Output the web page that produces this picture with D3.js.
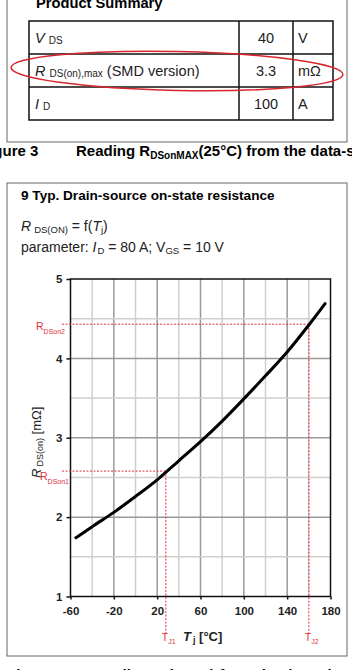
<!DOCTYPE html>
<html>
<head>
<meta charset="utf-8">
<script src="https://cdn.jsdelivr.net/npm/d3@7"></script>
<style>
  body { margin: 0; background: #fff; }
  svg { display: block; font-family: "Liberation Sans", Arial, sans-serif; }
</style>
</head>
<body>
<script>
// table rows: symbol, subscript, value, unit
var symbols = ['V', 'R', 'I'];
var subscripts = ['DS', 'DS(on),max', 'D'];
var extras = ['', ' (SMD version)', ''];
var values = ['40', '3.3', '100'];
var units = ['V', 'm\u03a9', 'A'];

// curve: Tj [°C] vs RDS(on) [mOhm]
var temps = [-55, -40, -20, 0, 20, 40, 60, 80, 100, 120, 140, 160, 175];
var rdson = [1.74, 1.88, 2.06, 2.26, 2.47, 2.71, 2.95, 3.21, 3.49, 3.78, 4.08, 4.42, 4.69];

// reading lines
var refTemps = [28, 160];
var refR = [2.58, 4.43];
var refNames = ['1', '2'];

var xTicks = [-60, -20, 20, 60, 100, 140, 180];
var yTicks = [1, 2, 3, 4, 5];

var red = '#e0303a';

var svg = d3.select('body').append('svg')
  .attr('width', 352)
  .attr('height', 670);

// ---------- product summary ----------
svg.append('rect')
  .attr('x', 7).attr('y', -5).attr('width', 340).attr('height', 147)
  .attr('fill', 'none').attr('stroke', '#666').attr('stroke-width', 1);

svg.append('text')
  .attr('x', 36).attr('y', 8)
  .attr('font-size', 14.7).attr('font-weight', 'bold')
  .text('Product Summary');

var rowH = 33, tTop = 21, tLeft = 29, tRight = 333;
var c1 = 239, c2 = 293;

svg.append('rect')
  .attr('x', tLeft).attr('y', tTop).attr('width', tRight - tLeft).attr('height', rowH * 3)
  .attr('fill', 'none').attr('stroke', '#111').attr('stroke-width', 1.5);

svg.selectAll('.rowline')
  .data([1, 2])
  .enter()
  .append('line')
  .attr('x1', tLeft).attr('x2', tRight)
  .attr('y1', function(d) { return tTop + d * rowH; })
  .attr('y2', function(d) { return tTop + d * rowH; })
  .attr('stroke', '#111').attr('stroke-width', 1.5);

svg.selectAll('.colline')
  .data([c1, c2])
  .enter()
  .append('line')
  .attr('x1', function(d) { return d; }).attr('x2', function(d) { return d; })
  .attr('y1', tTop).attr('y2', tTop + rowH * 3)
  .attr('stroke', '#111').attr('stroke-width', 1.5);

symbols.forEach(function(s, i) {
  var base = tTop + i * rowH + 22;
  var t = svg.append('text').attr('x', 35).attr('y', base).attr('font-size', 14.5).attr('fill', '#222');
  t.append('tspan').attr('font-style', 'italic').text(s);
  t.append('tspan').attr('font-size', 10).attr('dx', 4).attr('dy', 1).text(subscripts[i]);
  t.append('tspan').attr('dy', -1).text(extras[i]);

  svg.append('text').attr('x', 266).attr('y', base)
    .attr('font-size', 14.5).attr('text-anchor', 'middle').attr('fill', '#222')
    .text(values[i]);
  svg.append('text').attr('x', 298).attr('y', base)
    .attr('font-size', 14.5).attr('fill', '#222')
    .text(units[i]);
});

svg.append('ellipse')
  .attr('cx', 177).attr('cy', 71).attr('rx', 166).attr('ry', 19.5)
  .attr('transform', 'rotate(1.2 177 71)')
  .attr('fill', 'none').attr('stroke', '#d8262e').attr('stroke-width', 1.5);

// figure 3 caption
svg.append('text').attr('x', -20).attr('y', 156)
  .attr('font-size', 15).attr('font-weight', 'bold')
  .text('Figure 3');
var cap = svg.append('text').attr('x', 76).attr('y', 156)
  .attr('font-size', 15).attr('font-weight', 'bold');
cap.append('tspan').text('Reading R');
cap.append('tspan').attr('font-size', 10).attr('dy', 3).text('DSonMAX');
cap.append('tspan').attr('dy', -3).text('(25\u00b0C) from the data-sheet');

// ---------- chart panel ----------
svg.append('rect')
  .attr('x', 7).attr('y', 183).attr('width', 340).attr('height', 473)
  .attr('fill', 'none').attr('stroke', '#666').attr('stroke-width', 1);

svg.append('text').attr('x', 21).attr('y', 200)
  .attr('font-size', 13.6).attr('font-weight', 'bold')
  .text('9 Typ. Drain-source on-state resistance');

var f1 = svg.append('text').attr('x', 21).attr('y', 231).attr('font-size', 14).attr('fill', '#222');
f1.append('tspan').attr('font-style', 'italic').text('R');
f1.append('tspan').attr('font-size', 9.5).attr('dx', 3).attr('dy', 2).text('DS(ON)');
f1.append('tspan').attr('dy', -2).text(' = f(');
f1.append('tspan').attr('font-style', 'italic').text('T');
f1.append('tspan').attr('font-size', 9.5).attr('dy', 2).text('j');
f1.append('tspan').attr('dy', -2).text(')');

var f2 = svg.append('text').attr('x', 21).attr('y', 252).attr('font-size', 14).attr('fill', '#222');
f2.append('tspan').text('parameter: ');
f2.append('tspan').attr('font-style', 'italic').text('I');
f2.append('tspan').attr('font-size', 9.5).attr('dx', 1).attr('dy', 2).text('D');
f2.append('tspan').attr('dy', -2).text(' = 80 A; V');
f2.append('tspan').attr('font-size', 9.5).attr('dy', 2).text('GS');
f2.append('tspan').attr('dy', -2).text(' = 10 V');

var x = d3.scaleLinear().domain([-60, 180]).range([70.5, 330.5]);
var y = d3.scaleLinear().domain([1, 5]).range([596.5, 279]);

var plot = svg.append('g');

// grid
plot.selectAll('.vgrid')
  .data(d3.range(-40, 180, 20))
  .enter()
  .append('line')
  .attr('x1', function(d) { return x(d); }).attr('x2', function(d) { return x(d); })
  .attr('y1', y(5)).attr('y2', y(1))
  .attr('stroke', function(d) { return (d + 60) % 40 === 0 ? '#999' : '#cfcfcf'; })
  .attr('stroke-width', 1.5);

plot.selectAll('.hgrid')
  .data(d3.range(1.5, 5, 0.5))
  .enter()
  .append('line')
  .attr('x1', x(-60)).attr('x2', x(180))
  .attr('y1', function(d) { return y(d); }).attr('y2', function(d) { return y(d); })
  .attr('stroke', function(d) { return d % 1 === 0 ? '#999' : '#cfcfcf'; })
  .attr('stroke-width', 1.5);

plot.append('rect')
  .attr('x', x(-60)).attr('y', y(5))
  .attr('width', x(180) - x(-60)).attr('height', y(1) - y(5))
  .attr('fill', 'none').attr('stroke', '#111').attr('stroke-width', 1.5);

// axes
var yAxis = svg.append('g')
  .attr('transform', 'translate(' + x(-60) + ',0)')
  .call(d3.axisLeft(y).tickValues(yTicks).tickSize(4).tickPadding(4).tickFormat(String));
var xAxis = svg.append('g')
  .attr('transform', 'translate(0,' + y(1) + ')')
  .call(d3.axisBottom(x).tickValues(xTicks).tickSize(3).tickPadding(7).tickFormat(String));

[xAxis, yAxis].forEach(function(a) {
  a.select('.domain').remove();
  a.selectAll('line').attr('stroke', '#111').attr('stroke-width', 1.5);
  a.selectAll('text')
    .attr('font-family', '"Liberation Sans", Arial, sans-serif')
    .attr('font-size', 11.5).attr('font-weight', 'bold').attr('fill', '#222');
});

// y axis title
var yt = svg.append('text')
  .attr('transform', 'translate(41,478) rotate(-90)')
  .attr('font-size', 13).attr('fill', '#222');
yt.append('tspan').attr('font-style', 'italic').text('R');
yt.append('tspan').attr('font-size', 9).attr('dx', 2).attr('dy', 2).text('DS(on)');
yt.append('tspan').attr('dy', -2).text(' [m\u03a9]');

// x axis title
var xt = svg.append('text').attr('x', 183).attr('y', 641)
  .attr('font-size', 13).attr('font-weight', 'bold').attr('fill', '#222');
xt.append('tspan').attr('font-style', 'italic').text('T');
xt.append('tspan').attr('font-size', 9).attr('dx', 2).attr('dy', 2).text('j');
xt.append('tspan').attr('dy', -2).text(' [\u00b0C]');

// red reading lines
refTemps.forEach(function(t, i) {
  plot.append('line')
    .attr('x1', 62).attr('x2', x(t))
    .attr('y1', y(refR[i])).attr('y2', y(refR[i]))
    .attr('stroke', red).attr('stroke-width', 1).attr('stroke-dasharray', '2,1.5');
  plot.append('line')
    .attr('x1', x(t)).attr('x2', x(t))
    .attr('y1', y(refR[i])).attr('y2', 633)
    .attr('stroke', red).attr('stroke-width', 1).attr('stroke-dasharray', '2,1.5');

  var tl = svg.append('text').attr('x', x(t) - 4).attr('y', 641)
    .attr('font-size', 10.5).attr('fill', red);
  tl.append('tspan').text('T');
  tl.append('tspan').attr('font-size', 7).attr('dy', 3).text('J' + refNames[i]);
});

var rlabX = [40, 36];
var rlabDy = [9, 6];
refR.forEach(function(r, i) {
  var rl = svg.append('text').attr('x', rlabX[i]).attr('y', y(r) + rlabDy[i])
    .attr('font-size', 10.5).attr('fill', red);
  rl.append('tspan').text('R');
  rl.append('tspan').attr('font-size', 7).attr('dy', 4).text('DSon' + refNames[i]);
});

// curve
var line = d3.line()
  .x(function(d, i) { return x(temps[i]); })
  .y(function(d) { return y(d); })
  .curve(d3.curveMonotoneX);

plot.append('path')
  .datum(rdson)
  .attr('d', line)
  .attr('fill', 'none')
  .attr('stroke', '#000')
  .attr('stroke-width', 3)
  .attr('stroke-linecap', 'round');

// figure 4 caption, mostly cut off at bottom
var cap4 = svg.append('text').attr('x', 7).attr('y', 680)
  .attr('font-size', 15).attr('font-weight', 'bold');
cap4.append('tspan').text('Figure 4');
cap4.append('tspan').attr('x', 90).text('Reading T');
cap4.append('tspan').attr('font-size', 10).attr('dy', 3).text('J');
cap4.append('tspan').attr('dy', -3).text('(R');
cap4.append('tspan').attr('font-size', 10).attr('dy', 3).text('DSon');
cap4.append('tspan').attr('dy', -3).text(') from the data-sheet');
</script>
</body>
</html>
